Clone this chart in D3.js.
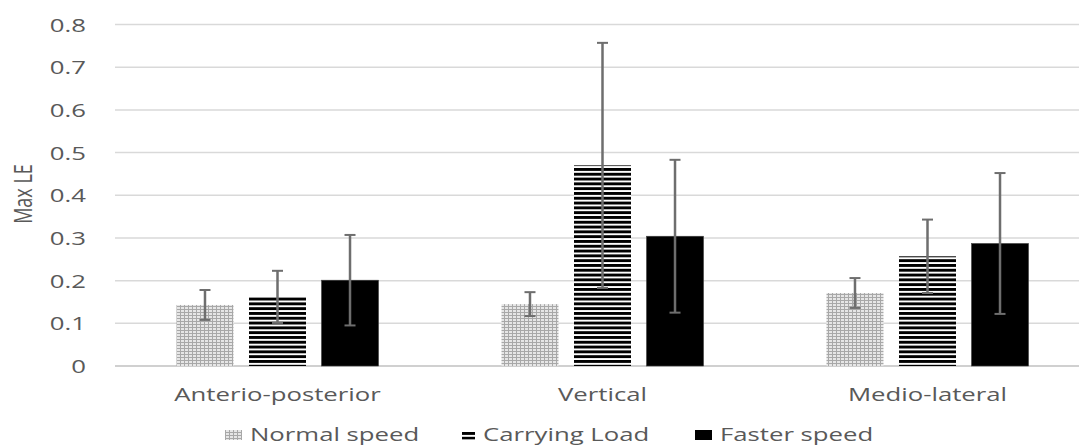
<!DOCTYPE html>
<html>
<head>
<meta charset="utf-8">
<script src="https://cdn.jsdelivr.net/npm/d3@7"></script>
<style>
  html, body { margin: 0; padding: 0; background: #fff; }
  svg { display: block; font-family: "Open Sans", sans-serif; }
</style>
</head>
<body>
<svg id="chart" width="1079" height="447"></svg>
<script>
// ---- data ----
const categories = ["Anterio-posterior", "Vertical", "Medio-lateral"];
const seriesNames = ["Normal speed", "Carrying Load", "Faster speed"];
const normalMean = [0.143, 0.145, 0.171];
const normalErr  = [0.035, 0.028, 0.035];
const loadMean   = [0.162, 0.470, 0.257];
const loadErr    = [0.061, 0.287, 0.086];
const fasterMean = [0.201, 0.304, 0.287];
const fasterErr  = [0.106, 0.179, 0.165];
const yTicks = [0, 0.1, 0.2, 0.3, 0.4, 0.5, 0.6, 0.7, 0.8];
const yTickLabels = ["0", "0.1", "0.2", "0.3", "0.4", "0.5", "0.6", "0.7", "0.8"];
const yTitle = "Max LE";

const means = [normalMean, loadMean, fasterMean];
const errs = [normalErr, loadErr, fasterErr];
const rows = [];
categories.forEach((c, ci) => seriesNames.forEach((s, si) => {
  rows.push({ cat: c, series: s, si, mean: means[si][ci], err: errs[si][ci] });
}));

// ---- layout ----
const W = 1079, H = 447;
const SX = 1.43;       // horizontal stretch of the text
const textColor = "#595959";
const svg = d3.select("#chart");

const defs = svg.append("defs");
// dotted-grid pattern (Normal speed)
const p1 = defs.append("pattern").attr("id", "patNormal")
  .attr("patternUnits", "userSpaceOnUse").attr("width", 4).attr("height", 3);
p1.append("rect").attr("width", 4).attr("height", 3).attr("fill", "#a8a8a8");
p1.append("rect").attr("x", 1).attr("y", 1).attr("width", 3).attr("height", 2).attr("fill", "#e6e6e6");
// horizontal stripes (Carrying Load)
const p2 = defs.append("pattern").attr("id", "patLoad")
  .attr("patternUnits", "userSpaceOnUse").attr("width", 8).attr("height", 4.8);
p2.append("rect").attr("width", 8).attr("height", 4.8).attr("fill", "#ffffff");
p2.append("rect").attr("y", 0).attr("width", 8).attr("height", 2.9).attr("fill", "#000000");

const fills = ["url(#patNormal)", "url(#patLoad)", "#000000"];

const x0 = d3.scaleBand().domain(categories).range([115, 1090]).paddingInner(0).paddingOuter(0);
const x1 = d3.scaleBand().domain(seriesNames).range([0, x0.bandwidth()])
  .paddingInner(0.214).paddingOuter(0.848);
const y = d3.scaleLinear().domain([0, 0.8]).range([366, 24.5]);

// gridlines
svg.append("g").selectAll("line").data(yTicks).join("line")
  .attr("x1", 115).attr("x2", W)
  .attr("y1", d => y(d)).attr("y2", d => y(d))
  .attr("stroke", (d) => d === 0 ? "#d0d0d0" : "#d9d9d9")
  .attr("stroke-width", (d) => d === 0 ? 2 : 1.5);

// y tick labels
svg.append("g").selectAll("text").data(yTicks).join("text")
  .attr("transform", d => `translate(86,${y(d) + 7}) scale(${SX},1)`)
  .attr("text-anchor", "end")
  .attr("font-size", 18)
  .attr("fill", textColor)
  .text((d, i) => yTickLabels[i]);

// y title
svg.append("text")
  .attr("transform", `translate(32,194) scale(${SX},1) rotate(-90)`)
  .attr("text-anchor", "middle")
  .attr("font-size", 18)
  .attr("fill", textColor)
  .text(yTitle);

// bars
svg.append("g").selectAll("rect").data(rows).join("rect")
  .attr("x", d => x0(d.cat) + x1(d.series))
  .attr("y", d => y(d.mean))
  .attr("width", x1.bandwidth())
  .attr("height", d => y(0) - y(d.mean))
  .attr("fill", d => fills[d.si])
  .attr("stroke", d => d.si === 2 ? "#404040" : "none")
  .attr("stroke-width", 0.6);

// error bars
const eb = svg.append("g").attr("stroke", "#6e6e6e");
const cx = d => x0(d.cat) + x1(d.series) + x1.bandwidth() / 2;
eb.selectAll("line.v").data(rows).join("line").attr("class", "v")
  .attr("x1", cx).attr("x2", cx)
  .attr("y1", d => y(d.mean + d.err)).attr("y2", d => y(d.mean - d.err))
  .attr("stroke-width", 2.5);
eb.selectAll("line.top").data(rows).join("line").attr("class", "top")
  .attr("x1", d => cx(d) - 5.5).attr("x2", d => cx(d) + 5.5)
  .attr("y1", d => y(d.mean + d.err)).attr("y2", d => y(d.mean + d.err))
  .attr("stroke-width", 2);
eb.selectAll("line.bot").data(rows).join("line").attr("class", "bot")
  .attr("x1", d => cx(d) - 5.5).attr("x2", d => cx(d) + 5.5)
  .attr("y1", d => y(d.mean - d.err)).attr("y2", d => y(d.mean - d.err))
  .attr("stroke-width", 2);

// category labels
svg.append("g").selectAll("text").data(categories).join("text")
  .attr("transform", d => `translate(${x0(d) + x0.bandwidth() / 2},401) scale(${SX},1)`)
  .attr("text-anchor", "middle")
  .attr("font-size", 18)
  .attr("fill", textColor)
  .text(d => d);

// legend
const legendX = [225, 462, 695];
const legendSw = [17, 13, 17];
const lg = svg.append("g").selectAll("g").data(seriesNames).join("g")
  .attr("transform", (d, i) => `translate(${legendX[i]},0)`);
lg.append("rect")
  .attr("x", 0).attr("y", (d, i) => i === 1 ? 431.5 : 430)
  .attr("width", (d, i) => legendSw[i])
  .attr("height", (d, i) => i === 1 ? 8 : 10)
  .attr("fill", (d, i) => fills[i]);
lg.append("text")
  .attr("transform", (d, i) => `translate(${legendSw[i] + 8},441) scale(${SX},1)`)
  .attr("font-size", 18)
  .attr("fill", textColor)
  .text(d => d);
</script>
</body>
</html>
